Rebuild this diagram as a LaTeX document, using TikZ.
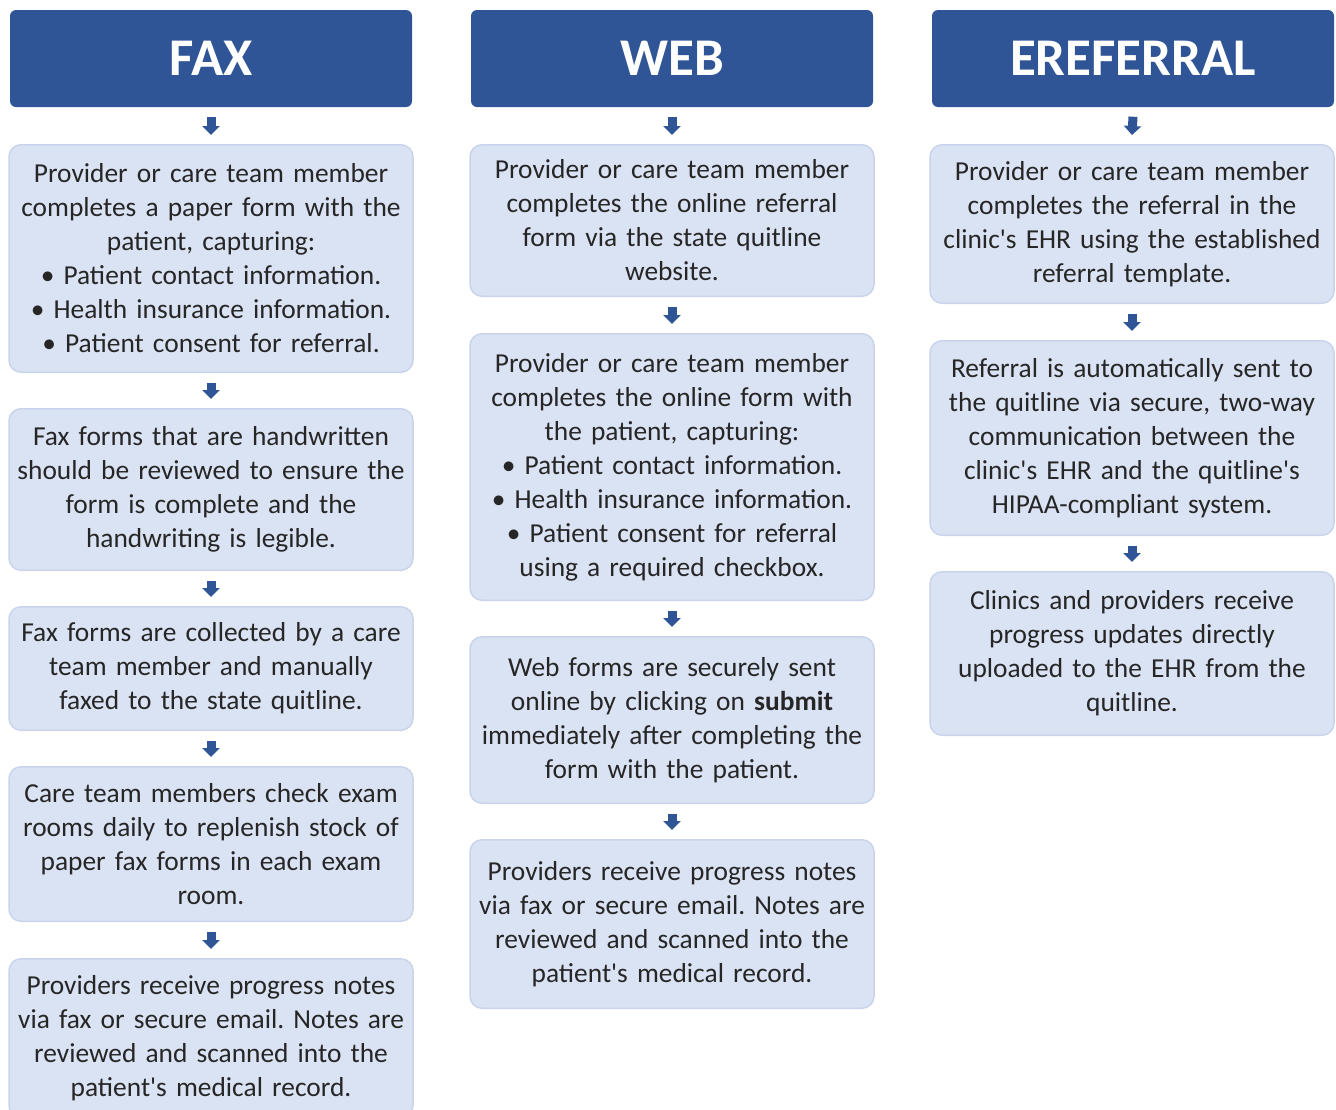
\documentclass[tikz,border=0pt]{standalone}
\usepackage{fontspec}
\setmainfont{Carlito}
\usetikzlibrary{arrows.meta}
\definecolor{hdr}{HTML}{2F5597}
\definecolor{boxfill}{HTML}{DAE3F3}
\definecolor{boxline}{HTML}{C9D4EC}
\definecolor{txt}{HTML}{262626}
\newcommand{\ap}{\textquotesingle}
\frenchspacing
\begin{document}
\begin{tikzpicture}[x=1pt,y=-1pt,
  hdrbox/.style={fill=hdr, rounded corners=6pt, minimum width=402pt, minimum height=97pt,
    text=white, font=\fontsize{53}{60}\selectfont\bfseries, inner sep=0pt},
  stepbox/.style={fill=boxfill, draw=boxline, line width=1.5pt, rounded corners=12pt,
    minimum width=404pt, text width=404pt, align=center,
    font=\fontsize{27.4}{34}\selectfont\frenchspacing, text=txt, inner sep=0pt},
  flow/.style={draw=hdr, line width=9pt, -{Triangle[width=17pt,length=9pt]}}]
\useasboundingbox (0,0) rectangle (1336,1109);

% headers
\node[hdrbox] (hf) at (211,58.5) {FAX};
\node[hdrbox] (hw) at (672,58.5) {WEB};
\node[hdrbox] (he) at (1133,58.5) {EREFERRAL};

% FAX column
\node[stepbox, minimum height=227.5pt] (f1) at (211,258.5) {Provider or care team member\\ completes a paper form with the\\ patient, capturing:\\ \textbullet{} Patient contact information.\\ \textbullet{} Health insurance information.\\ \textbullet{} Patient consent for referral.};
\node[stepbox, minimum height=161.5pt] (f2) at (211,489.5) {Fax forms that are handwritten\\ should be reviewed to ensure the\\ form is complete and the\\ handwriting is legible.};
\node[stepbox, minimum height=123.5pt] (f3) at (211,668.5) {Fax forms are collected by a care\\ team member and manually\\ faxed to the state quitline.};
\node[stepbox, minimum height=154.5pt] (f4) at (211,844) {Care team members check exam\\ rooms daily to replenish stock of\\ paper fax forms in each exam\\ room.};
\node[stepbox, minimum height=158.5pt] (f5) at (211,1038) {Providers receive progress notes\\ via fax or secure email. Notes are\\ reviewed and scanned into the\\ patient\ap s medical record.};

% WEB column
\node[stepbox, minimum height=151.5pt] (w1) at (672,220.5) {Provider or care team member\\ completes the online referral\\ form via the state quitline\\ website.};
\node[stepbox, minimum height=266.5pt] (w2) at (672,467) {Provider or care team member\\ completes the online form with\\ the patient, capturing:\\ \textbullet{} Patient contact information.\\ \textbullet{} Health insurance information.\\ \textbullet{} Patient consent for referral\\ using a required checkbox.};
\node[stepbox, minimum height=166.5pt] (w3) at (672,720) {Web forms are securely sent\\ online by clicking on \textbf{submit}\\ immediately after completing the\\ form with the patient.};
\node[stepbox, minimum height=168.5pt] (w4) at (672,924) {Providers receive progress notes\\ via fax or secure email. Notes are\\ reviewed and scanned into the\\ patient\ap s medical record.};

% EREFERRAL column
\node[stepbox, minimum height=158.5pt] (e1) at (1132,224) {Provider or care team member\\ completes the referral in the\\ clinic\ap s EHR using the established\\ referral template.};
\node[stepbox, minimum height=194.5pt] (e2) at (1132,438) {Referral is automatically sent to\\ the quitline via secure, two-way\\ communication between the\\ clinic\ap s EHR and the quitline\ap s\\ HIPAA-compliant system.};
\node[stepbox, minimum height=163.5pt] (e3) at (1132,653.5) {Clinics and providers receive\\ progress updates directly\\ uploaded to the EHR from the\\ quitline.};

% arrows
\foreach \a/\b in {hf/f1,f1/f2,f2/f3,f3/f4,f4/f5,hw/w1,w1/w2,w2/w3,w3/w4,he/e1,e1/e2,e2/e3}
  \draw[flow] ([yshift=-9.5pt]\a.south) -- ([yshift=9pt]\b.north);
\end{tikzpicture}
\end{document}
